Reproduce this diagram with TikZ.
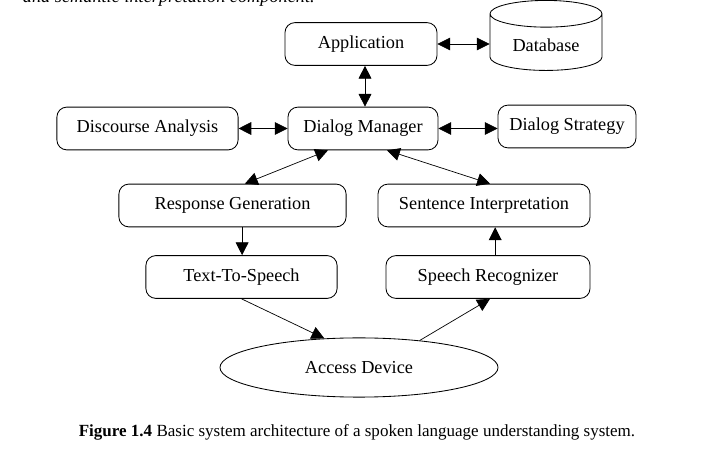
\documentclass[tikz,border=0pt]{standalone}
\usepackage{fontspec}
\setmainfont{Liberation Serif}
\usetikzlibrary{shapes,arrows.meta,calc}
\tikzset{
    block/.style={draw, rounded corners=2.5mm, line width=0.6pt, minimum height=1.07cm, font=\fontsize{13}{15}\selectfont},
    db/.style={draw, cylinder, shape border rotate=90, aspect=0.35, line width=0.6pt, font=\fontsize{13}{15}\selectfont},
    link/.style={line width=0.5pt, -{Triangle[length=3.2mm,width=3.2mm]}},
    dlink/.style={line width=0.5pt, {Triangle[length=3.2mm,width=3.2mm]}-{Triangle[length=3.2mm,width=3.2mm]}}}

\begin{document}
\begin{tikzpicture}[x=0.025cm,y=-0.025cm]
\useasboundingbox (0,0) rectangle (718,471);
\clip (0,0) rectangle (718,471);

\node[anchor=base west, font=\fontsize{13}{15}\selectfont\itshape] (top) at (18,3) {and semantic interpretation component.};

\node[block, minimum width=3.8cm] (app) at (361,44) {Application};
\node[db, minimum width=2.8cm, minimum height=1.75cm] (base) at (546,45) {Database};
\node[block, minimum width=4.53cm] (da) at (147.5,128.5) {Discourse Analysis};
\node[block, minimum width=3.75cm] (dm) at (363,128.5) {Dialog Manager};
\node[block, minimum width=3.45cm] (ds) at (567,126.5) {Dialog Strategy};
\node[block, minimum width=5.68cm] (rg) at (232.5,205.5) {Response Generation};
\node[block, minimum width=5.3cm] (si) at (484,205.5) {Sentence Interpretation};
\node[block, minimum width=4.78cm] (tts) at (241.5,277) {Text-To-Speech};
\node[block, minimum width=5.1cm] (sr) at (488,277) {Speech Recognizer};
\node[draw, ellipse, line width=0.6pt, minimum width=6.95cm, minimum height=1.48cm, font=\fontsize{13}{15}\selectfont] (ad) at (359,367.5) {Access Device};

\node[font=\fontsize{12.1}{14}\selectfont] (cap) at (357,432) {\textbf{Figure 1.4} Basic system architecture of a spoken language understanding system.};

%links
\draw[dlink] (app.east) -- (app.east -| base.west);
\draw[dlink] ([xshift=0.1cm]app.south) -- ([xshift=0.1cm]app.south |- dm.north);
\draw[dlink] (da.east) -- (da.east -| dm.west);
\draw[dlink] (dm.east) -- (dm.east -| ds.west);
\draw[dlink] ([xshift=-0.875cm]dm.south) -- ([xshift=0.31cm]rg.north);
\draw[dlink] ([xshift=0.6cm]dm.south) -- ([xshift=0.15cm]si.north);
\draw[link] ([xshift=0.24cm]rg.south) -- ([xshift=0.24cm]rg.south |- tts.north);
\draw[link] ([xshift=0.18cm]sr.north) -- ([xshift=0.18cm]sr.north |- si.south);
\draw[link] (tts.south) -- (ad.140);
\draw[link] (ad.24) -- ([xshift=0.05cm]sr.south);

\end{tikzpicture}
\end{document}
